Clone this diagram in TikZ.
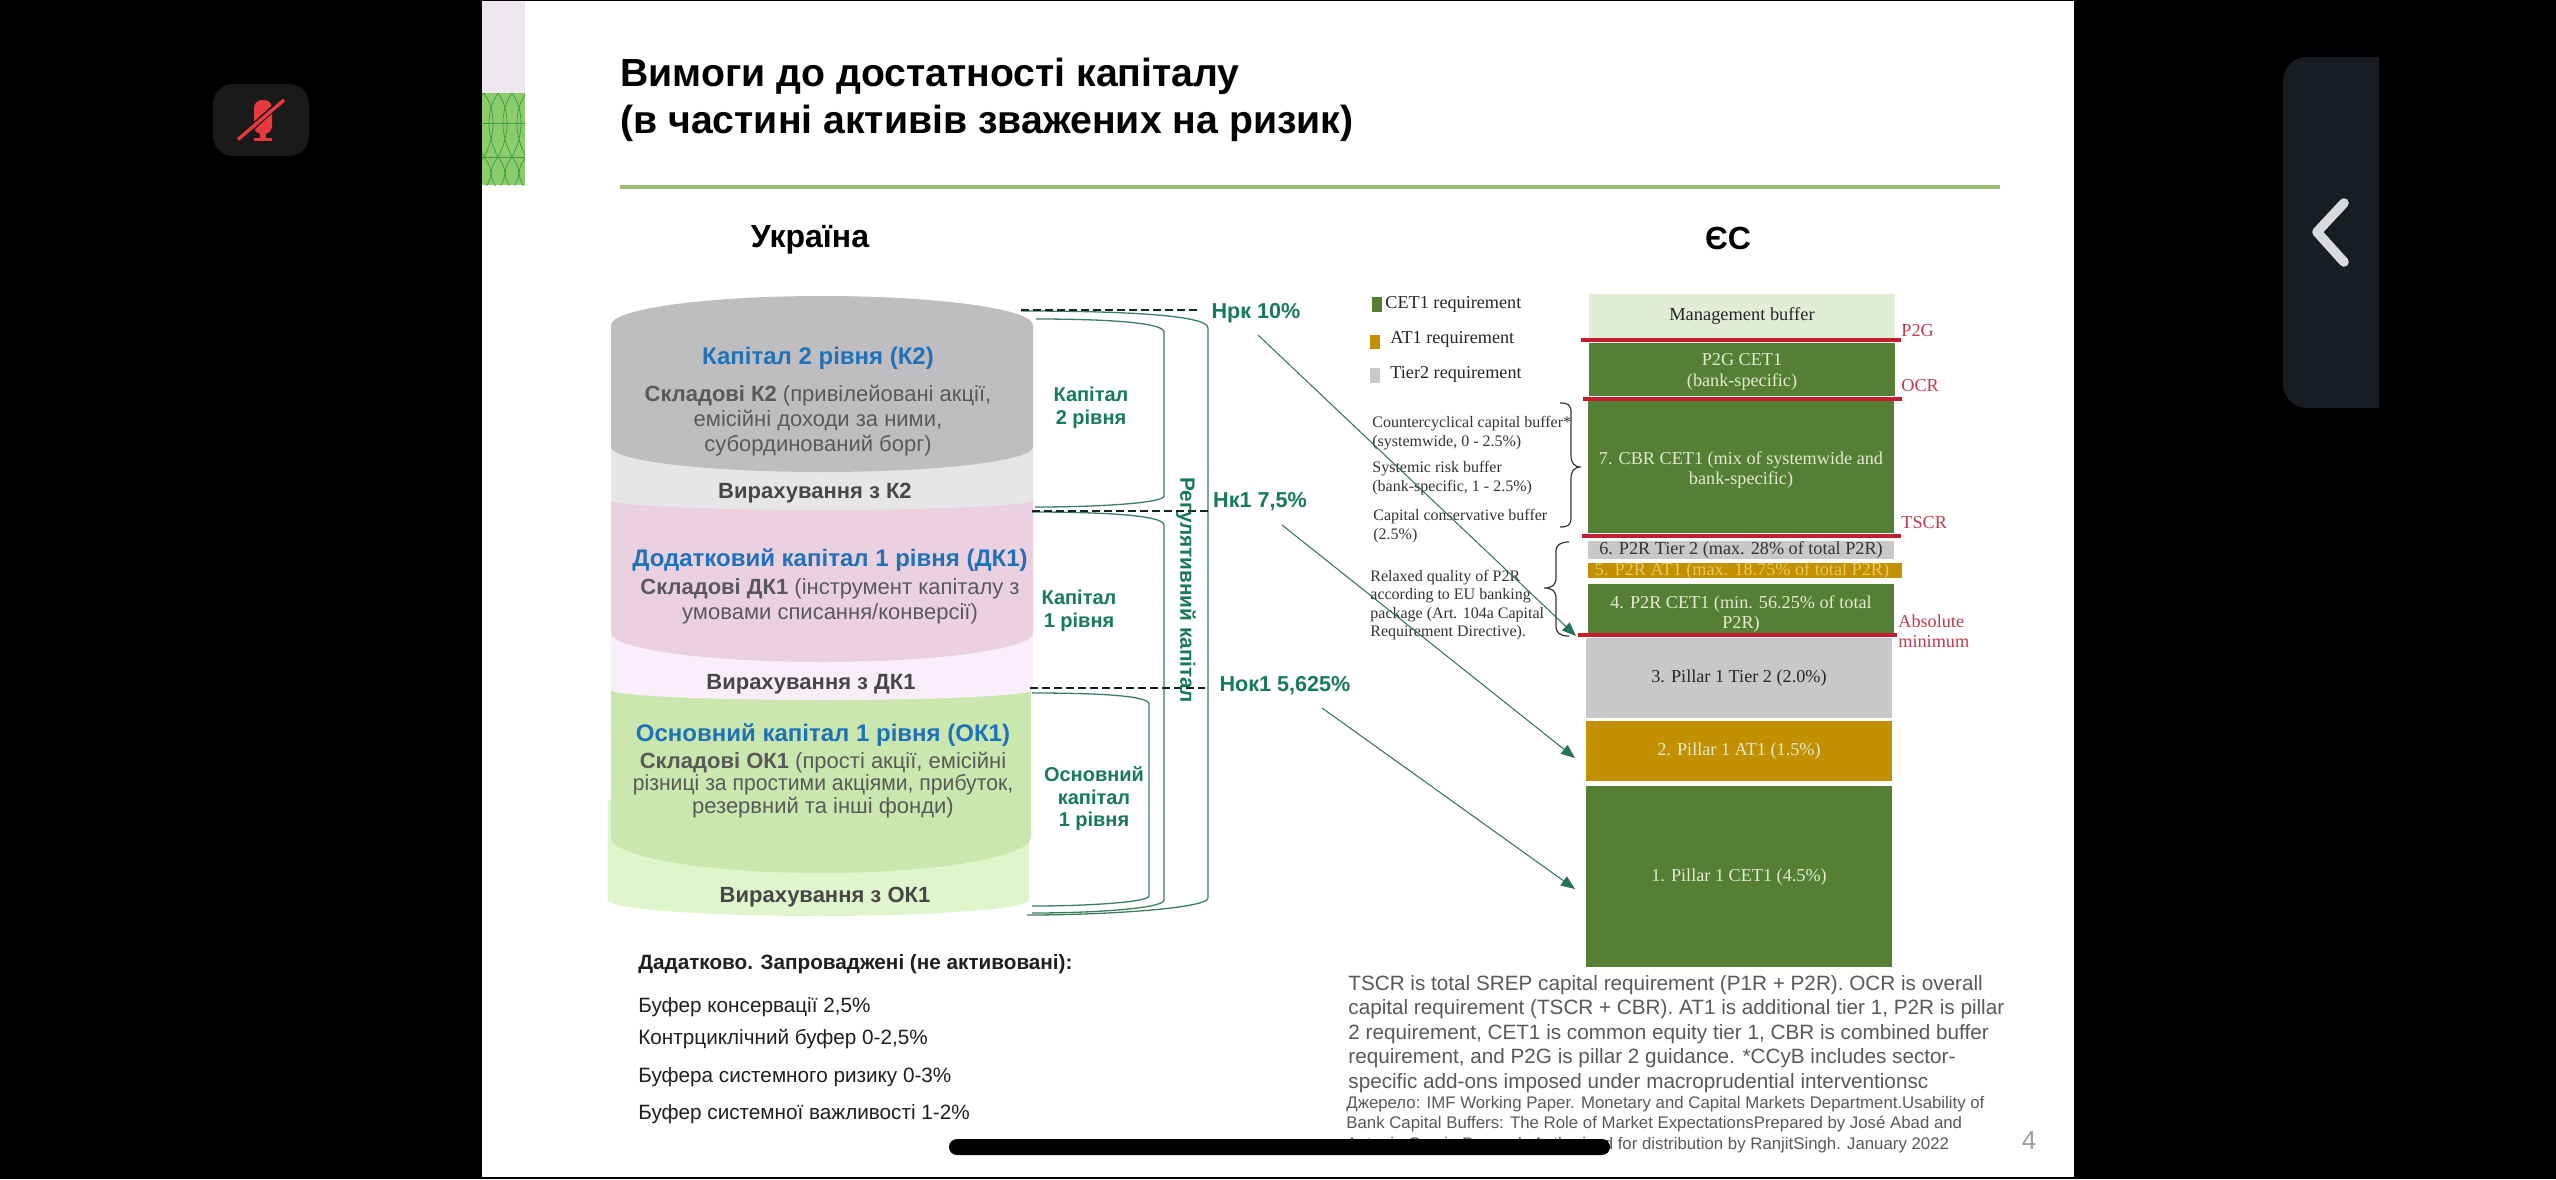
\documentclass[tikz,border=0pt]{standalone}
\usepackage{fontspec}
\usetikzlibrary{arrows.meta}
\setmainfont{Liberation Sans}
\newfontfamily\tms{Liberation Serif}
\definecolor{gnT}{HTML}{177A58}
\definecolor{gnL}{HTML}{3B7F5E}
\definecolor{blueT}{HTML}{1F72B8}
\definecolor{grayT}{HTML}{595959}
\definecolor{deep}{HTML}{557F35}
\definecolor{tg}{HTML}{C8C8C8}
\definecolor{gold}{HTML}{C29000}
\definecolor{redL}{HTML}{C41E2E}
\definecolor{redT}{HTML}{C23A50}
\definecolor{pale}{HTML}{E2EDD6}
\definecolor{lgt}{HTML}{E3EBCF}
\definecolor{softy}{HTML}{E8C860}
\definecolor{rulec}{HTML}{9BBB6E}
\definecolor{band}{HTML}{EDE8EE}
\definecolor{latticeF}{HTML}{8CCB6E}
\definecolor{latticeL}{HTML}{3E9A3C}
\definecolor{lgA}{HTML}{DFF5CC}
\definecolor{lgB}{HTML}{CAE7AF}
\definecolor{pkA}{HTML}{FBEEFB}
\definecolor{pkB}{HTML}{EBD1E0}
\definecolor{gyA}{HTML}{E6E6E6}
\definecolor{gyB}{HTML}{BFBDC0}
\definecolor{micbg}{HTML}{1A1A1A}
\definecolor{micred}{HTML}{E8393F}
\definecolor{panel}{HTML}{1A1C24}
\definecolor{chev}{HTML}{D8DADC}
% half-shape of a cylinder layer: L R ytop rise ybottom bulge colour
\newcommand{\layer}[7]{\fill[#7] (#1,#3)
 .. controls (#1,{#3-.55*#4}) and ({(#1+#2)/2-.275*(#2-#1)},{#3-#4}) .. ({(#1+#2)/2},{#3-#4})
 .. controls ({(#1+#2)/2+.275*(#2-#1)},{#3-#4}) and (#2,{#3-.55*#4}) .. (#2,#3)
 -- (#2,#5)
 .. controls (#2,{#5+.55*#6}) and ({(#1+#2)/2+.275*(#2-#1)},{#5+#6}) .. ({(#1+#2)/2},{#5+#6})
 .. controls ({(#1+#2)/2-.275*(#2-#1)},{#5+#6}) and (#1,{#5+.55*#6}) .. (#1,#5) -- cycle;}
\tikzset{
 px/.style={x=0.5pt,y=-0.5pt},
 slidetitle/.style={font=\bfseries\fontsize{19.6}{23.8}\selectfont,align=left,anchor=west,inner sep=0,text=black},
 head/.style={font=\bfseries\fontsize{16}{18}\selectfont,inner sep=0,text=black},
 capT/.style={font=\bfseries\fontsize{12}{14}\selectfont,inner sep=0,text=blueT},
 capB/.style={font=\fontsize{11}{12.5}\selectfont,align=center,inner sep=0,text=grayT},
 ded/.style={font=\bfseries\fontsize{11}{13}\selectfont,inner sep=0,text=black!72},
 glab/.style={font=\bfseries\fontsize{10}{11.2}\selectfont,align=center,inner sep=0,text=gnT},
 ratio/.style={font=\bfseries\fontsize{10.8}{13}\selectfont,inner sep=0,text=gnT},
 brk/.style={draw=gnL,line width=0.65pt},
 dsh/.style={draw=black!70!gnL,line width=0.75pt,dash pattern=on 4pt off 2pt},
 arw/.style={draw=gnL!85!black,line width=0.5pt,-{Triangle[length=7pt,width=5.5pt,fill=gnT]}},
 tier/.style={font=\tms\fontsize{9.1}{10.4}\selectfont,align=center,inner sep=0},
 redline/.style={draw=redL,line width=1.6pt},
 redlab/.style={font=\tms\fontsize{9.1}{10}\selectfont,anchor=west,align=left,inner sep=0,text=redT},
 note/.style={font=\tms\fontsize{8}{9.3}\selectfont,anchor=west,align=left,inner sep=0,text=black!80},
 leg/.style={font=\tms\fontsize{9.1}{10}\selectfont,anchor=west,inner sep=0,text=black!85},
 extra/.style={font=\fontsize{10.35}{12}\selectfont,anchor=west,inner sep=0,text=black!88},
 foot/.style={font=\fontsize{10.35}{12.2}\selectfont,anchor=north west,align=left,inner sep=0,text=grayT},
 src/.style={font=\fontsize{8.4}{10.2}\selectfont,anchor=north west,align=left,inner sep=0,text=grayT},
 brace/.style={draw=black!80,line width=0.6pt},
}
\begin{document}
\begin{tikzpicture}[px]
\useasboundingbox (0,0) rectangle (2556,1179);
\fill[black] (0,0) rectangle (2556,1179);
% slide
\fill[white] (482,1) rectangle (2074,1177);
\fill[band] (482,1) rectangle (525,93);
\fill[latticeF] (482,93) rectangle (525,185);
\begin{scope}
\clip (482,93) rectangle (525,185);
\draw[latticeL,line width=0.35pt] (482,123)--(525,123) (482,157)--(525,157);
\foreach \a in {470,484,498,512,526}{
 \draw[latticeL,line width=0.35pt] (\a,93) .. controls (\a+12,110) and (\a+12,135) .. (\a,157) .. controls (\a+10,170) and (\a+8,178) .. (\a,190);
 \draw[latticeL,line width=0.35pt] (\a+14,93) .. controls (\a+2,110) and (\a+2,135) .. (\a+14,157) .. controls (\a+4,170) and (\a+6,178) .. (\a+14,190);
}
\end{scope}
% phone overlay: microphone
\fill[micbg,rounded corners=10pt] (213,84) rectangle (309,156);
\fill[micred,rounded corners=4pt] (254,100) rectangle (272,134);
\fill[micred] (254,114) rectangle (272,128);
\fill[micred] (260,132) rectangle (266,138);
\draw[micred,line width=1.5pt] (254,139.5) -- (272,139.5);
\draw[micbg,line width=3pt] (236,142) -- (286,97);
\draw[micred,line width=1.7pt] (238,139.5) -- (284,100);
% phone overlay: side panel
\fill[panel,rounded corners=12pt] (2283,57) rectangle (2400,408);
\fill[black] (2379,50) rectangle (2410,415);
\draw[chev,line width=4.8pt,line cap=round,line join=round] (2344,203) -- (2317,232) -- (2344,262);
% title
\node[slidetitle] (title) at (620,100) {Вимоги до достатності капіталу\\(в частині активів зважених на ризик)};
\fill[rulec] (620,185) rectangle (2000,189);
\node[head] (ua) at (810,240) {Україна};
\node[head] (eu) at (1728,238) {ЄС};
% cylinder stack
\layer{608}{1029}{800}{0}{900}{16}{lgA}
\layer{611}{1031}{680}{0}{837}{36}{lgB}
\layer{611}{1033}{600}{0}{690}{10}{pkA}
\layer{611}{1033}{500}{0}{633}{29}{pkB}
\layer{611}{1033}{400}{0}{500}{10}{gyA}
\layer{611}{1033}{325}{29}{447}{25}{gyB}
\node[capT] (k2t) at (818,358) {Капітал 2 рівня (К2)};
\node[capB] (k2b) at (818,421) {{\bfseries Складові К2} (привілейовані акції,\\емісійні доходи за ними,\\субординований борг)};
\node[ded] (k2d) at (815,493) {Вирахування з К2};
\node[capT] (d1t) at (830,560) {Додатковий капітал 1 рівня (ДК1)};
\node[capB] (d1b) at (830,601) {{\bfseries Складові ДК1} (інструмент капіталу з\\умовами списання/конверсії)};
\node[ded] (d1d) at (811,684) {Вирахування з ДК1};
\node[capT] (o1t) at (823,735) {Основний капітал 1 рівня (ОК1)};
\node[capB,font=\fontsize{11}{11.1}\selectfont] (o1b) at (823,785) {{\bfseries Складові ОК1} (прості акції, емісійні\\\scalebox{.962}[1]{різниці за простими акціями, прибуток,}\\резервний та інші фонди)};
\node[ded] (o1d) at (825,897) {Вирахування з ОК1};
% ratio labels
\node[ratio] (nrk) at (1256,313) {Нрк 10\%};
\node[ratio] (nk1) at (1260,502) {Нк1 7,5\%};
\node[ratio] (nok) at (1285,686) {Нок1 5,625\%};
% brackets
\coordinate (b2a) at (1036,319); \coordinate (b2b) at (1035,507);
\coordinate (b1a) at (1032,512); \coordinate (b1b) at (1032,913);
\coordinate (b0a) at (1032,693); \coordinate (b0b) at (1032,906);
\coordinate (bra) at (1021,311); \coordinate (brb) at (1027,915);
\draw[brk] (b2a) .. controls (1100,319) and (1164,322) .. (1164,332) -- (1164,496) .. controls (1164,503) and (1100,507) .. (b2b);
\draw[brk] (b1a) .. controls (1100,512) and (1164,515) .. (1164,525) -- (1164,900) .. controls (1164,908) and (1100,913) .. (b1b);
\draw[brk] (b0a) .. controls (1090,693) and (1149,695) .. (1149,704) -- (1149,896) .. controls (1149,902) and (1090,906) .. (b0b);
\draw[brk] (bra) .. controls (1110,311) and (1208,314) .. (1208,328) -- (1208,898) .. controls (1208,908) and (1110,915) .. (brb);
\coordinate (d3) at (1021,310); \coordinate (d3e) at (1197,310);
\coordinate (d1) at (1032,511); \coordinate (d1e) at (1210,511);
\coordinate (d0) at (1030,688); \coordinate (d0e) at (1205,688);
\draw[dsh] (d3) -- (d3e); \draw[dsh] (d1) -- (d1e); \draw[dsh] (d0) -- (d0e);
\node[glab] (l2) at (1091,408) {Капітал\\2 рівня};
\node[glab] (l1) at (1079,611) {Капітал\\1 рівня};
\node[glab] (l0) at (1094,799) {Основний\\капітал\\1 рівня};
\node[glab,rotate=-90,font=\bfseries\fontsize{10.4}{13}\selectfont] (reg) at (1186,590) {Регулятивний капітал};
% EU stack
\node[fill=pale,minimum width=153pt,minimum height=22pt,inner sep=0,font=\tms\fontsize{9.2}{10}\selectfont,text=black!85] (mb) at (1742,316) {Management buffer};
\fill[deep] (1589,343) rectangle (1895,396);
\node[tier,text=lgt] (p2g) at (1742,372) {P2G CET1\\(bank-specific)};
\fill[deep] (1588,401) rectangle (1894,533);
\node[tier,text=lgt] (cbr) at (1741,470) {7. CBR CET1 (mix of systemwide and\\bank-specific)};
\fill[tg] (1588,541) rectangle (1894,559);
\node[tier,text=black!80] (p6) at (1741,550) {6. P2R Tier 2 (max. 28\% of total P2R)};
\fill[gold] (1588,563) rectangle (1902,578);
\node[tier,text=softy] (p5) at (1742,571) {5. P2R AT1 (max. 18.75\% of total P2R)};
\fill[deep] (1588,584) rectangle (1894,633);
\node[tier,text=lgt] (p4) at (1741,614) {4. P2R CET1 (min. 56.25\% of total\\P2R)};
\fill[tg] (1586,638) rectangle (1892,718);
\node[tier,text=black!85] (p3) at (1739,678) {3. Pillar 1 Tier 2 (2.0\%)};
\fill[gold] (1586,721) rectangle (1892,781);
\node[tier,text=lgt] (p2) at (1739,751) {2. Pillar 1 AT1 (1.5\%)};
\fill[deep] (1586,786) rectangle (1892,967);
\node[tier,text=lgt] (p1) at (1739,877) {1. Pillar 1 CET1 (4.5\%)};
% red lines
\draw[redline] (1581,340) -- (1901,340);
\draw[redline] (1583,399) -- (1902,399);
\draw[redline] (1582,536) -- (1901,536);
\draw[redline] (1578,635) -- (1897,635);
\node[redlab] (rp) at (1901,331) {P2G};
\node[redlab] (ro) at (1901,386) {OCR};
\node[redlab] (rt) at (1901,523) {TSCR};
\node[redlab] (ra) at (1898,631) {Absolute\\minimum};
% legend
\fill[deep] (1372,297) rectangle (1382,312);
\fill[gold] (1370,335) rectangle (1380,349);
\fill[tg] (1370,368) rectangle (1380,383);
\node[leg] (lg1) at (1385,304) {CET1 requirement};
\node[leg] (lg2) at (1390,339) {AT1 requirement};
\node[leg] (lg3) at (1390,374) {Tier2 requirement};
% side notes
\node[note] (n1) at (1372,433) {Countercyclical capital buffer*\\(systemwide, 0 - 2.5\%)};
\node[note] (n2) at (1372,478) {Systemic risk buffer\\(bank-specific, 1 - 2.5\%)};
\node[note] (n3) at (1373,526) {Capital conservative buffer\\(2.5\%)};
\node[note] (n4) at (1370,605) {Relaxed quality of P2R\\according to EU banking\\package (Art. 104a Capital\\Requirement Directive).};
\draw[brace] (1560,403) .. controls (1568,403) and (1571,405) .. (1571,412) -- (1571,455) .. controls (1571,463) and (1574,467) .. (1581,467) .. controls (1574,467) and (1571,471) .. (1571,479) -- (1571,518) .. controls (1571,525) and (1568,527) .. (1560,527);
\draw[brace] (1569,542) .. controls (1560,542) and (1556,545) .. (1556,552) -- (1556,578) .. controls (1556,585) and (1552,588) .. (1544,588) .. controls (1552,588) and (1556,591) .. (1556,598) -- (1556,626) .. controls (1556,633) and (1560,636) .. (1569,636);
% arrows
\coordinate (a1) at (1258,335); \coordinate (a1e) at (1576,636);
\coordinate (a2) at (1282,525); \coordinate (a2e) at (1575,758);
\coordinate (a3) at (1322,708); \coordinate (a3e) at (1575,889);
\draw[arw] (a1) -- (a1e);
\draw[arw] (a2) -- (a2e);
\draw[arw] (a3) -- (a3e);
% bottom left
\node[extra,font=\bfseries\fontsize{10.35}{12}\selectfont] (x0) at (638,964) {Дадатково. Запроваджені (не активовані):};
\node[extra] (x1) at (638,1007) {Буфер консервації 2,5\%};
\node[extra] (x2) at (638,1039) {Контрциклічний буфер 0-2,5\%};
\node[extra] (x3) at (638,1077) {Буфера системного ризику 0-3\%};
\node[extra] (x4) at (638,1114) {Буфер системної важливості 1-2\%};
% bottom right
\node[foot] (f1) at (1348,975) {TSCR is total SREP capital requirement (P1R + P2R). OCR is overall\\capital requirement (TSCR + CBR). AT1 is additional tier 1, P2R is pillar\\2 requirement, CET1 is common equity tier 1, CBR is combined buffer\\requirement, and P2G is pillar 2 guidance. *CCyB includes sector-\\specific add-ons imposed under macroprudential interventionsc};
\node[src] (f2) at (1346,1096) {Джерело: IMF Working Paper. Monetary and Capital Markets Department.Usability of\\Bank Capital Buffers: The Role of Market ExpectationsPrepared by José Abad and\\Antonio Garcia Pascual. Authorized for distribution by RanjitSingh. January 2022};
\node[font=\fontsize{13}{14}\selectfont,text=black!38,inner sep=0] (pg) at (2029,1141) {4};
\fill[black,rounded corners=4pt] (949,1139) rectangle (1610,1155);
\end{tikzpicture}
\end{document}
